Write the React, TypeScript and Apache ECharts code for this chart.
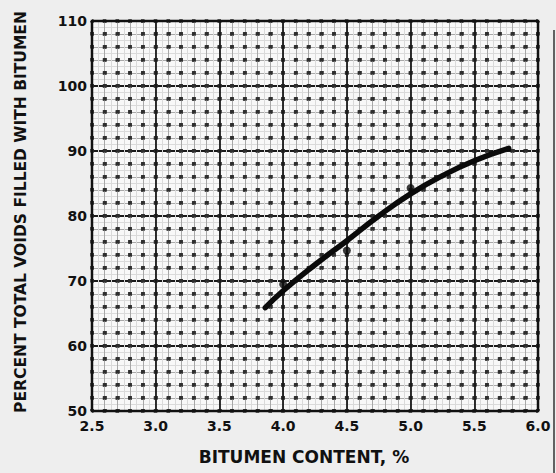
import React, { useEffect, useRef } from "react";
import * as echarts from "echarts";

// Axis ranges and tick steps
const xMin = 2.5;
const xMax = 6.0;
const yMin = 50;
const yMax = 110;
const xMajor = 0.5;
const xMinor = 0.1;
const xFine = 0.05;
const yMajor = 10;
const yMinor = 2;
const yFine = 1;

// Fitted curve
const curveX = [3.86, 4.0, 4.25, 4.5, 4.75, 5.0, 5.25, 5.5, 5.77];
const curveY = [65.9, 68.5, 72.5, 76.2, 80.0, 83.4, 86.2, 88.5, 90.4];

// Measured points
const pointX = [4.0, 4.5, 5.0];
const pointY = [69.5, 74.7, 84.3];

const xTitle = "BITUMEN CONTENT, %";
const yTitle = "PERCENT TOTAL VOIDS FILLED WITH BITUMEN";

const W = 556;
const H = 473;
const G = { left: 92, top: 21, right: 18, bottom: 62 };
const gw = W - G.left - G.right;
const gh = H - G.top - G.bottom;
const pxX = (gw / (xMax - xMin)) * xMinor;
const pxY = (gh / (yMax - yMin)) * yMinor;
const dot = 3.6;

const FONT = '"DejaVu Sans", "Liberation Sans", sans-serif';

function hiddenAxis(extra: any) {
  return {
    type: "value",
    axisLine: { show: false },
    axisTick: { show: false },
    axisLabel: { show: false },
    ...extra,
  };
}

export default function App() {
  const ref = useRef<HTMLDivElement>(null);
  useEffect(() => {
    if (!ref.current) return;
    const chart = echarts.init(ref.current, null, { renderer: "svg" });
    const curve = curveX.map((x, i) => [x, curveY[i]]);
    const pts = pointX.map((x, i) => [x, pointY[i]]);
    chart.setOption({
      animation: false,
      backgroundColor: "#eeeeee",
      grid: {
        left: G.left,
        top: G.top,
        right: G.right,
        bottom: G.bottom,
        show: true,
        backgroundColor: "#f8f8f8",
        borderWidth: 0,
      },
      xAxis: [
        hiddenAxis({
          min: xMin, max: xMax, interval: xFine, position: "bottom",
          splitLine: { show: true, lineStyle: { color: "#dadada", width: 1 } },
        }),
        hiddenAxis({
          min: xMin, max: xMax, interval: xMinor, position: "bottom",
          splitLine: { show: true, lineStyle: { color: "#a8a8a8", width: 1 } },
        }),
        hiddenAxis({
          min: xMin, max: xMax, interval: xMinor, position: "bottom",
          splitLine: {
            show: true,
            lineStyle: { color: "#2e2e2e", width: dot, type: [dot, pxY - dot], dashOffset: dot / 2 },
          },
        }),
        {
          type: "value", min: xMin, max: xMax, interval: xMajor, position: "bottom",
          axisLine: { show: false },
          axisTick: { show: false },
          axisLabel: {
            show: true, margin: 8, color: "#111", fontFamily: FONT, fontWeight: "bold", fontSize: 14,
            formatter: (v: number) => v.toFixed(1),
          },
          splitLine: { show: true, lineStyle: { color: "#1a1a1a", width: 1.8 } },
        },
      ],
      yAxis: [
        hiddenAxis({
          min: yMin, max: yMax, interval: yFine, position: "left",
          splitLine: { show: true, lineStyle: { color: "#dadada", width: 1 } },
        }),
        hiddenAxis({
          min: yMin, max: yMax, interval: yMinor, position: "left",
          splitLine: { show: true, lineStyle: { color: "#a8a8a8", width: 1 } },
        }),
        hiddenAxis({
          min: yMin, max: yMax, interval: yMinor, position: "left",
          splitLine: {
            show: true,
            lineStyle: { color: "#2e2e2e", width: dot, type: [dot, pxX - dot], dashOffset: dot / 2 },
          },
        }),
        {
          type: "value", min: yMin, max: yMax, interval: yMajor, position: "left",
          axisLine: { show: false },
          axisTick: { show: false },
          axisLabel: {
            show: true, margin: 5, color: "#111", fontFamily: FONT, fontWeight: "bold", fontSize: 14,
          },
          splitLine: { show: true, lineStyle: { color: "#1a1a1a", width: 1.8 } },
        },
      ],
      series: [
        {
          type: "line",
          xAxisIndex: 3,
          yAxisIndex: 3,
          data: curve,
          smooth: true,
          showSymbol: false,
          symbol: "none",
          lineStyle: { color: "#0a0a0a", width: 5.5, cap: "round" },
          z: 5,
        },
        {
          type: "scatter",
          xAxisIndex: 3,
          yAxisIndex: 3,
          data: pts,
          symbol: "circle",
          symbolSize: 8,
          itemStyle: { color: "#0a0a0a" },
          z: 6,
        },
      ],
      graphic: [
        {
          type: "rect",
          z: 100,
          shape: { x: G.left, y: G.top, width: gw, height: gh },
          style: { fill: "none", stroke: "#111", lineWidth: 2.5 },
        },
        {
          type: "line",
          z: 100,
          shape: { x1: 554, y1: 30, x2: 554, y2: 473 },
          style: { stroke: "#333", lineWidth: 1.5 },
        },
        {
          type: "text",
          z: 100,
          x: 304,
          y: 457,
          style: {
            text: xTitle, fill: "#111", font: `bold 17px ${FONT}`,
            align: "center", verticalAlign: "middle",
          },
        },
        {
          type: "text",
          z: 100,
          x: 21,
          y: 212,
          rotation: Math.PI / 2,
          style: {
            text: yTitle, fill: "#111", font: `bold 15.5px ${FONT}`,
            align: "center", verticalAlign: "middle",
          },
        },
      ],
    });
    return () => chart.dispose();
  }, []);
  return (
    <div
      ref={ref}
      style={{ position: "fixed", left: 0, top: 0, width: W, height: H }}
    />
  );
}
